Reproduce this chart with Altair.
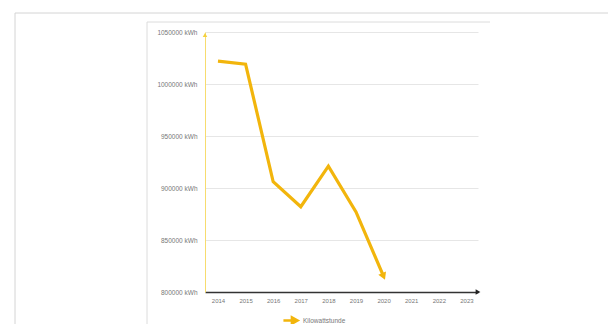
import altair as alt
import pandas as pd

years = [2014, 2015, 2016, 2017, 2018, 2019, 2020]
kwh = [1022000, 1019000, 906000, 882000, 921000, 877000, 815000]
tick_years = [2014, 2015, 2016, 2017, 2018, 2019, 2020, 2021, 2022, 2023]
y_ticks = [800000, 850000, 900000, 950000, 1000000, 1050000]
series_name = "Kilowattstunde"

df = pd.DataFrame({"Jahr": years, "kWh": kwh, "Serie": [series_name] * len(years)})
one = pd.DataFrame({"a": [0]})

LINE = "#F2B50C"

x_enc = alt.X("Jahr:Q",
              scale=alt.Scale(domain=[2013.53, 2023.42], nice=False, zero=False),
              axis=alt.Axis(values=tick_years, format="d", title=None, grid=False,
                            ticks=False, domainColor="#333333", domainWidth=1.5,
                            labelFontSize=6, labelColor="#777777", labelPadding=5,
                            labelOverlap=False, labelFlush=False, labelFont="Liberation Sans"))
y_enc = alt.Y("kWh:Q",
              scale=alt.Scale(domain=[800000, 1050000], nice=False, zero=False),
              axis=alt.Axis(values=y_ticks, labelExpr="datum.value + ' kWh'", title=None,
                            grid=True, gridColor="#e6e6e6", ticks=False,
                            domainColor="#F7DC6F", domainWidth=1,
                            labelFontSize=6.5, labelColor="#777777", labelPadding=8,
                            labelFont="Liberation Sans"))

line = alt.Chart(df).mark_line(strokeWidth=3.2, strokeJoin="miter").encode(
    x=x_enc, y=y_enc,
    color=alt.Color("Serie:N",
                    scale=alt.Scale(domain=[series_name], range=[LINE]),
                    legend=alt.Legend(title=None, orient="none", legendX=77, legendY=280,
                                      symbolType="M-1,0L0.2,0M0.2,-0.45L1,0L0.2,0.45Z",
                                      symbolSize=200, symbolStrokeWidth=2.5,
                                      symbolFillColor=LINE, symbolStrokeColor=LINE,
                                      labelFontSize=6.5, labelColor="#777777",
                                      labelFont="Liberation Sans")))

arrow_end = alt.Chart(df).transform_filter(alt.datum.Jahr == 2020).mark_point(
    shape="triangle-up", filled=True, size=70, angle=157, color=LINE, opacity=1
).encode(x=x_enc, y=y_enc)

frame = alt.Chart(one)
rules = [
    frame.mark_rule(color="#d4d4d4", strokeWidth=1).encode(x=alt.value(-190), x2=alt.value(403), y=alt.value(-19)),
    frame.mark_rule(color="#d4d4d4", strokeWidth=1).encode(x=alt.value(-190), y=alt.value(-19), y2=alt.value(292)),
    frame.mark_rule(color="#dcdcdc", strokeWidth=1).encode(x=alt.value(-58), x2=alt.value(285), y=alt.value(-10)),
    frame.mark_rule(color="#dcdcdc", strokeWidth=1).encode(x=alt.value(-58), y=alt.value(-10), y2=alt.value(292)),
]
xarrow = frame.mark_point(shape="triangle-right", filled=True, size=30, color="#222222", opacity=1).encode(
    x=alt.value(273), y=alt.value(260))
yarrow = frame.mark_point(shape="triangle-up", filled=True, size=20, color="#F5D13D", opacity=1).encode(
    x=alt.value(0), y=alt.value(3))

chart = alt.layer(*rules, line, arrow_end, xarrow, yarrow).properties(
    width=273, height=260,
    padding={"left": 205, "top": 32, "right": 130, "bottom": 32},
    autosize=alt.AutoSizeParams(type="none"),
    background="white"
).configure_view(stroke=None)

chart.save("out.html", embed_options={"renderer": "svg", "actions": False})
